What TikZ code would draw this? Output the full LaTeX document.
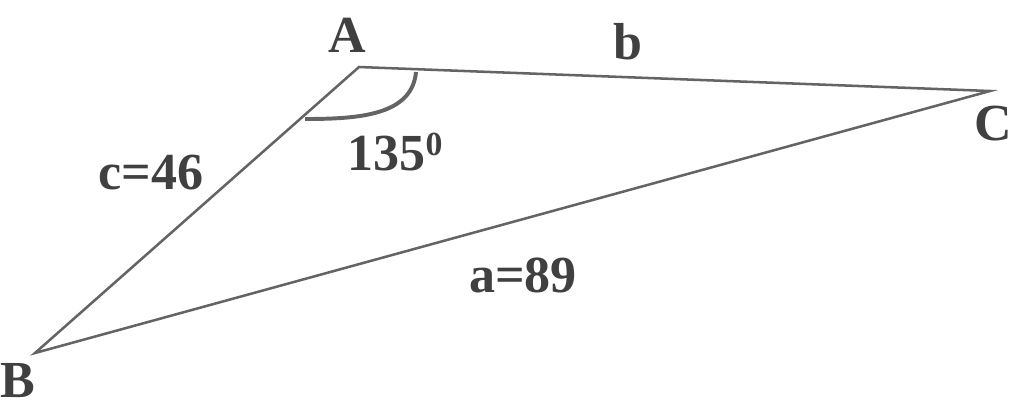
\documentclass[tikz,border=0pt]{standalone}
\usepackage{fontspec}
\setmainfont{Liberation Serif}
\usetikzlibrary{positioning}
\definecolor{linegray}{RGB}{100,100,100}
\definecolor{textgray}{RGB}{64,64,64}

\begin{document}
\begin{tikzpicture}[x=0.025cm, y=-0.025cm,
    side/.style = {draw=linegray, line width=1.8pt, line join=miter},
    anglearc/.style = {draw=linegray, line width=2.8pt},
    lbl/.style = {inner sep=0pt, text=textgray, font=\fontsize{37}{40}\selectfont\bfseries}]
  \useasboundingbox (0,0) rectangle (1024,410);
  % vertices
  \coordinate (A) at (359,67);
  \coordinate (B) at (35,353);
  \coordinate (C) at (990,91);

  \draw[side] (A) -- (C) -- (B) -- cycle;
  \draw[anglearc] (416,72) .. controls (412,115) and (360,119) .. (305,119);

  \node[lbl] (la) at (347,35)  {A};
  \node[lbl] (lb) at (18,381)  {B};
  \node[lbl] (lc) at (993,124) {C};
  \node[lbl] (sb) at (628,42)  {b};
  \node[lbl] (sc) at (151,173) {c=46};
  \node[lbl] (sa) at (523,275) {a=89};
  \node[lbl] (ang) at (395,152) {135{\fontsize{24}{26}\selectfont\raisebox{0.45em}{0}}};
\end{tikzpicture}
\end{document}
